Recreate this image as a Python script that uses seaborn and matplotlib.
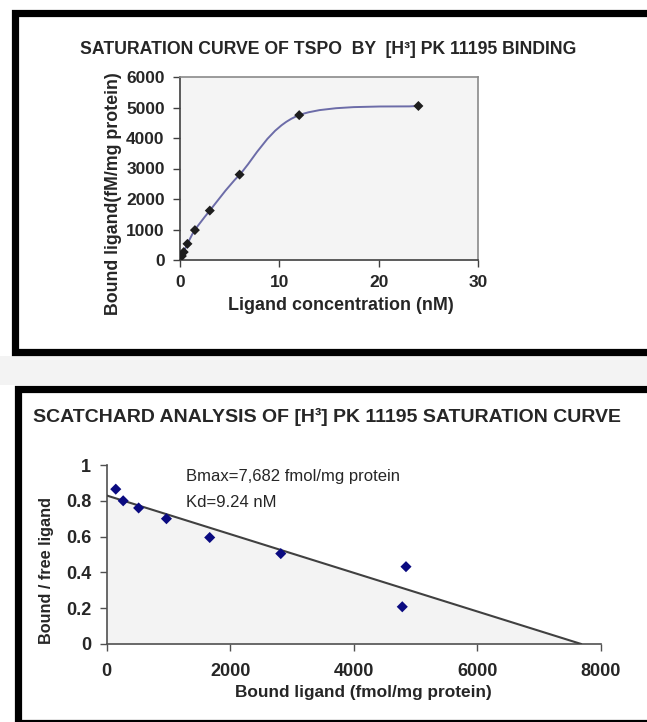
import numpy as np
import pandas as pd
import matplotlib
matplotlib.use("Agg")
import matplotlib.pyplot as plt
import seaborn as sns
from matplotlib.path import Path
from matplotlib.patches import PathPatch, Rectangle

# ---------------- data ----------------
conc_nM = [0.1875, 0.375, 0.75, 1.5, 3, 6, 12, 24]
bound_fM = [130, 260, 530, 980, 1620, 2800, 4750, 5050]

sc_bound = [150, 270, 520, 970, 1670, 2820, 4786, 4846]
sc_ratio = [0.865, 0.80, 0.76, 0.70, 0.595, 0.505, 0.208, 0.432]

fit_x = [0, 7682]
fit_y = [0.83, 0.0]

top_xticks = [0, 10, 20, 30]
top_yticks = [0, 1000, 2000, 3000, 4000, 5000, 6000]
bot_xticks = [0, 2000, 4000, 6000, 8000]
bot_yticks = [0, 0.2, 0.4, 0.6, 0.8, 1.0]
bot_yticklabels = ["0", "0.2", "0.4", "0.6", "0.8", "1"]

title_top = "SATURATION CURVE OF TSPO  BY  [H³] PK 11195 BINDING"
title_bot = "SCATCHARD ANALYSIS OF [H³] PK 11195 SATURATION CURVE"
top_xlabel = "Ligand concentration (nM)"
top_ylabel = "Bound ligand(fM/mg protein)"
bot_xlabel = "Bound ligand (fmol/mg protein)"
bot_ylabel = "Bound / free ligand"
note_bmax = "Bmax=7,682 fmol/mg protein"
note_kd = "Kd=9.24 nM"

# ---------------- style ----------------
sns.set_style("white")
plt.rcParams["font.family"] = ["Liberation Sans", "DejaVu Sans"]

W, H = 647, 722
fig = plt.figure(figsize=(W / 100, H / 100), dpi=100)
fig.patch.set_facecolor("white")


def fx(px):
    return px / W


def fy(py):
    return 1 - py / H


# gap band between the two panels
fig.patches.append(Rectangle((0, fy(385)), 1, (385 - 356) / H, transform=fig.transFigure,
                             facecolor="#f3f3f3", edgecolor="none", zorder=-3))
# panel frames
frame_lw = 5.2
fig.patches.append(Rectangle((fx(15.5), fy(352.5)), fx(670) - fx(15.5), (352.5 - 12.5) / H,
                             transform=fig.transFigure, facecolor="white", edgecolor="black",
                             lw=frame_lw, zorder=-2))
fig.patches.append(Rectangle((fx(18), fy(723)), fx(670) - fx(18), (723 - 388.5) / H,
                             transform=fig.transFigure, facecolor="white", edgecolor="black",
                             lw=frame_lw, zorder=-2))

# ---------------- top chart ----------------
ax1 = fig.add_axes([fx(180), fy(260), (478 - 180) / W, (260 - 77) / H])
ax1.set_facecolor("#f4f4f4")


def smooth_path(xs, ys):
    # Excel-style smoothed line: cubic Bezier (Catmull-Rom) through the data points
    pts = np.column_stack([xs, ys]).astype(float)
    n = len(pts)
    verts = [pts[0]]
    codes = [Path.MOVETO]
    for i in range(n - 1):
        p0 = pts[i - 1] if i > 0 else pts[i]
        p1 = pts[i]
        p2 = pts[i + 1]
        p3 = pts[i + 2] if i + 2 < n else pts[i + 1]
        c1 = p1 + (p2 - p0) / 6.0
        c2 = p2 - (p3 - p1) / 6.0
        verts += [c1, c2, p2]
        codes += [Path.CURVE4] * 3
    return Path(verts, codes)


ax1.add_patch(PathPatch(smooth_path(conc_nM, bound_fM), facecolor="none",
                        edgecolor="#6c6ca8", lw=1.4, zorder=3))
sns.scatterplot(x=conc_nM, y=bound_fM, marker="D", s=26, color="#1e1e1e",
                edgecolor="none", ax=ax1, zorder=4)
ax1.set_xlim(0, 30)
ax1.set_ylim(0, 6000)
ax1.set_xticks(top_xticks)
ax1.set_yticks(top_yticks)
for side in ["left", "bottom"]:
    ax1.spines[side].set_color("#404040")
    ax1.spines[side].set_linewidth(1.2)
for side in ["top", "right"]:
    ax1.spines[side].set_visible(True)
    ax1.spines[side].set_color("#8a8a8a")
    ax1.spines[side].set_linewidth(1.2)
ax1.tick_params(axis="both", which="major", direction="out", length=5, width=1,
                color="#404040", labelsize=12.5, bottom=True, left=True)
ax1.tick_params(axis="x", pad=6)
ax1.tick_params(axis="y", pad=6)
for lab in ax1.get_xticklabels() + ax1.get_yticklabels():
    lab.set_fontweight("bold")
ax1.set_xlabel(top_xlabel, fontsize=12.9, fontweight="bold")
ax1.set_ylabel(top_ylabel, fontsize=12.8, fontweight="bold")
ax1.xaxis.set_label_coords((341 - 180) / 298, (260 - 305) / 183)
ax1.xaxis.label.set_va("center")
ax1.yaxis.set_label_coords((113 - 180) / 298, (260 - 194) / 183)
ax1.yaxis.label.set_va("center")

fig.text(fx(328), fy(49), title_top, ha="center", va="center", fontsize=12.7,
         fontweight="bold")

# ---------------- bottom chart ----------------
ax2 = fig.add_axes([fx(106.5), fy(644), (600.9 - 106.5) / W, (644 - 465) / H])
ax2.set_facecolor("white")
ax2.fill_between(fit_x, fit_y, 0, color="#f3f3f3", lw=0, zorder=1)
sns.lineplot(x=fit_x, y=fit_y, color="#404040", lw=1.5, ax=ax2, zorder=3)
sns.scatterplot(x=sc_bound, y=sc_ratio, marker="D", s=32, color="#0a0a80",
                edgecolor="none", ax=ax2, zorder=4)
ax2.set_xlim(0, 8000)
ax2.set_ylim(0, 1)
ax2.set_xticks(bot_xticks)
ax2.set_yticks(bot_yticks)
ax2.set_yticklabels(bot_yticklabels)
for side in ["top", "right"]:
    ax2.spines[side].set_visible(False)
for side in ["left", "bottom"]:
    ax2.spines[side].set_color("#505050")
    ax2.spines[side].set_linewidth(1.2)
ax2.tick_params(axis="both", which="major", direction="out", length=5, width=1,
                color="#505050", labelsize=13, bottom=True, left=True)
ax2.tick_params(axis="x", pad=9)
ax2.tick_params(axis="y", pad=6)
for lab in ax2.get_xticklabels() + ax2.get_yticklabels():
    lab.set_fontweight("bold")
ax2.set_xlabel(bot_xlabel, fontsize=12.4, fontweight="bold")
ax2.set_ylabel(bot_ylabel, fontsize=11.7, fontweight="bold")
ax2.xaxis.set_label_coords((363 - 106.5) / 494.4, (644 - 692) / 179)
ax2.xaxis.label.set_va("center")
ax2.yaxis.set_label_coords((46.5 - 106.5) / 494.4, (644 - 571) / 179)
ax2.yaxis.label.set_va("center")

ax2.text(1290, 0.935, note_bmax, fontsize=12, ha="left", va="center")
ax2.text(1290, 0.793, note_kd, fontsize=12, ha="left", va="center")

fig.text(fx(327), fy(417), title_bot, ha="center", va="center", fontsize=14,
         fontweight="bold")

fig.savefig("out.png", dpi=100)
